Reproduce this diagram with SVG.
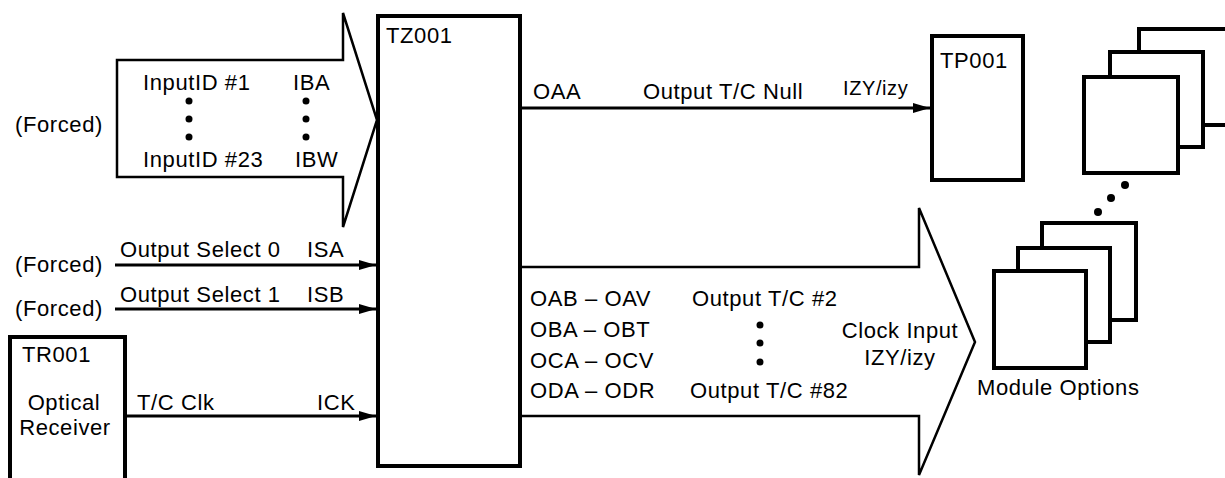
<svg xmlns="http://www.w3.org/2000/svg" width="1225" height="478" viewBox="0 0 1225 478">
<style>
  text { font-family: "Liberation Sans", Arial, sans-serif; font-size: 22px; letter-spacing: 0.6px; fill: #000; }
  .sm { font-size: 20px; }
  .box { fill: #fff; stroke: #000; stroke-width: 4; }
  .bus { fill: #fff; stroke: #000; stroke-width: 2.5; stroke-linejoin: miter; }
  .wire { stroke: #000; stroke-width: 3; fill: none; }
  .dot { fill: #000; }
</style>
<defs>
  <marker id="ah" viewBox="0 0 17 10" refX="17" refY="5" markerWidth="17" markerHeight="10" markerUnits="userSpaceOnUse" orient="auto">
    <path d="M0,0 L17,5 L0,10 z" fill="#000"/>
  </marker>
</defs>
<rect width="1225" height="478" fill="#fff"/>

<g id="input-bus">
  <polygon class="bus" points="117,60 343,60 343,13 377,120 343,227 343,177 117,177"/>
  <text x="143" y="90">InputID #1</text>
  <text x="293" y="90">IBA</text>
  <circle class="dot" cx="189" cy="101" r="3.5"/>
  <circle class="dot" cx="189" cy="119" r="3.5"/>
  <circle class="dot" cx="189" cy="137" r="3.5"/>
  <circle class="dot" cx="306" cy="101" r="3.5"/>
  <circle class="dot" cx="306" cy="119" r="3.5"/>
  <circle class="dot" cx="306" cy="137" r="3.5"/>
  <text x="143" y="167">InputID #23</text>
  <text x="295" y="167">IBW</text>
  <text x="15" y="132">(Forced)</text>
</g>

<g id="tz001">
  <rect class="box" x="378" y="16" width="142" height="450"/>
  <text x="386" y="43">TZ001</text>
</g>

<g id="tr001">
  <rect class="box" x="10" y="337" width="115" height="160"/>
  <text x="22" y="362">TR001</text>
  <text x="64" y="410" text-anchor="middle">Optical</text>
  <text x="65" y="435" text-anchor="middle">Receiver</text>
</g>

<g id="tp001">
  <rect class="box" x="932" y="36" width="91" height="144"/>
  <text x="940" y="68">TP001</text>
</g>

<g id="output-bus">
  <path class="bus" d="M522,267 H919 V208 L975,342 L919,475 V416 H522"/>
  <text x="530" y="306">OAB – OAV</text>
  <text x="530" y="337">OBA – OBT</text>
  <text x="530" y="368">OCA – OCV</text>
  <text x="530" y="398">ODA – ODR</text>
  <text x="692" y="306">Output T/C #2</text>
  <circle class="dot" cx="760" cy="325" r="3.5"/>
  <circle class="dot" cx="760" cy="343" r="3.5"/>
  <circle class="dot" cx="760" cy="362" r="3.5"/>
  <text x="690" y="398">Output T/C #82</text>
  <text x="900" y="338" text-anchor="middle">Clock Input</text>
  <text x="900" y="365" text-anchor="middle">IZY/izy</text>
</g>

<g id="module-options">
  <rect class="box" x="1139" y="29" width="100" height="96"/>
  <rect class="box" x="1110" y="52" width="93" height="95"/>
  <rect class="box" x="1084" y="77" width="94" height="96"/>
  <circle class="dot" cx="1125" cy="185" r="4"/>
  <circle class="dot" cx="1111" cy="198" r="4"/>
  <circle class="dot" cx="1098" cy="212" r="4"/>
  <rect class="box" x="1042" y="223" width="94" height="97"/>
  <rect class="box" x="1018" y="248" width="92" height="94"/>
  <rect class="box" x="994" y="271" width="92" height="97"/>
  <text x="977" y="395">Module Options</text>
</g>

<g id="connectors">
  <line class="wire" x1="115" y1="265" x2="376" y2="265" marker-end="url(#ah)"/>
  <text x="15" y="272">(Forced)</text>
  <text x="120" y="257">Output Select 0</text>
  <text x="307" y="257">ISA</text>

  <line class="wire" x1="115" y1="309" x2="376" y2="309" marker-end="url(#ah)"/>
  <text x="15" y="316">(Forced)</text>
  <text x="120" y="302">Output Select 1</text>
  <text x="307" y="302">ISB</text>

  <line class="wire" x1="127" y1="416" x2="376" y2="416" marker-end="url(#ah)"/>
  <text x="137" y="410">T/C Clk</text>
  <text x="317" y="410">ICK</text>

  <line class="wire" x1="522" y1="108" x2="930" y2="108" marker-end="url(#ah)"/>
  <text x="533" y="99">OAA</text>
  <text x="643" y="99">Output T/C Null</text>
  <text class="sm" x="843" y="95">IZY/izy</text>
</g>
</svg>
